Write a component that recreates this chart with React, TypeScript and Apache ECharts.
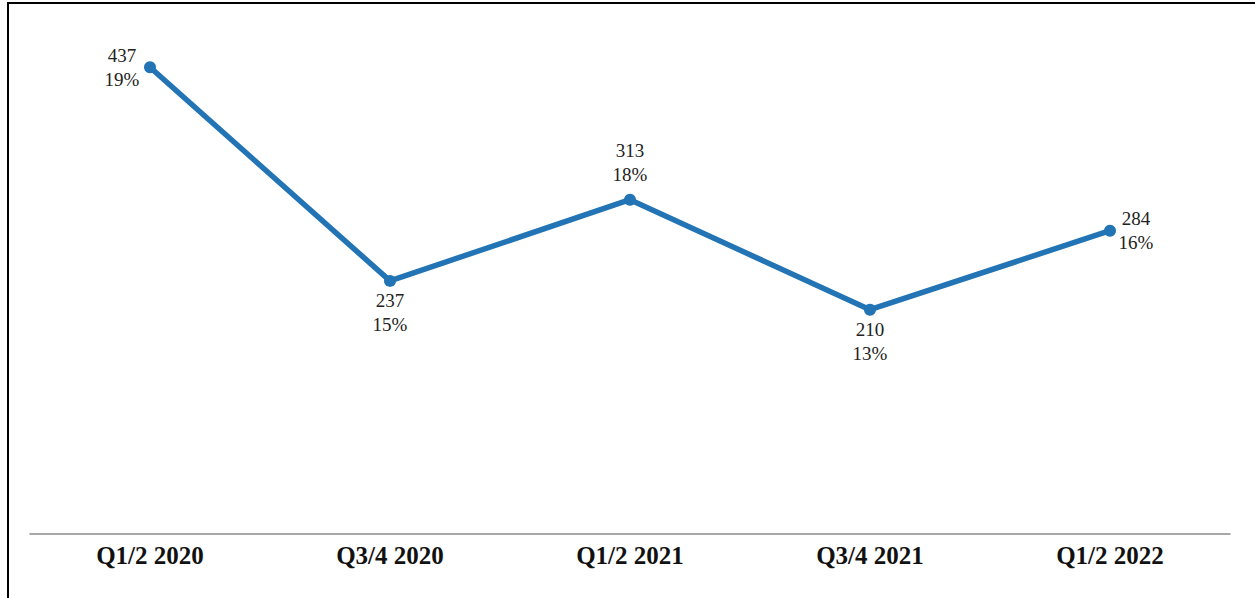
import React, { useEffect, useRef } from "react";
import * as echarts from "echarts";

const categories = ["Q1/2 2020", "Q3/4 2020", "Q1/2 2021", "Q3/4 2021", "Q1/2 2022"];
const counts = [437, 237, 313, 210, 284];
const shares = ["19%", "15%", "18%", "13%", "16%"];
const labelPositions = ["left", "bottom", "top", "bottom", "right"];
const labelOffsets = [[-14, 0], [0, -6], [0, 1], [0, -6], [12, 0]];

export default function App() {
  const ref = useRef<HTMLDivElement>(null);
  useEffect(() => {
    if (!ref.current) return;
    const chart = echarts.init(ref.current, null, { renderer: "svg" });
    const serif = "'Liberation Serif', 'DejaVu Serif', serif";
    chart.setOption({
      animation: false,
      backgroundColor: "#ffffff",
      grid: { left: 30, right: 25, top: 0, bottom: 64, containLabel: false },
      xAxis: {
        type: "category",
        data: categories,
        boundaryGap: true,
        axisLine: { show: true, lineStyle: { color: "#8a8a8a", width: 1.5 } },
        axisTick: { show: false },
        axisLabel: {
          color: "#111",
          fontFamily: serif,
          fontWeight: "bold",
          fontSize: 25,
          margin: 9,
        },
      },
      yAxis: {
        type: "value",
        min: 0,
        max: 500,
        show: false,
        splitLine: { show: false },
      },
      series: [
        {
          type: "line",
          data: counts.map((v, i) => ({
            value: v,
            label: { position: labelPositions[i], offset: labelOffsets[i] },
          })),
          color: "#2274b5",
          lineStyle: { width: 5.5, color: "#2274b5" },
          symbol: "circle",
          symbolSize: 12,
          itemStyle: { color: "#2274b5" },
          label: {
            show: true,
            color: "#222",
            fontFamily: serif,
            fontSize: 19,
            lineHeight: 24,
            distance: 8,
            align: "center",
            formatter: (p: any) => `${counts[p.dataIndex]}\n${shares[p.dataIndex]}`,
          },
        },
      ],
      graphic: [
        { type: "line", shape: { x1: 7, y1: 3, x2: 1255, y2: 3 }, style: { stroke: "#000", lineWidth: 2 } },
        { type: "line", shape: { x1: 8, y1: 2, x2: 8, y2: 598 }, style: { stroke: "#000", lineWidth: 2 } },
      ],
    });
    return () => chart.dispose();
  }, []);
  return (
    <div style={{ position: "absolute", left: 0, top: 0, width: 1255, height: 598, overflow: "hidden" }}>
      <div ref={ref} style={{ width: 1255, height: 598 }} />
    </div>
  );
}
